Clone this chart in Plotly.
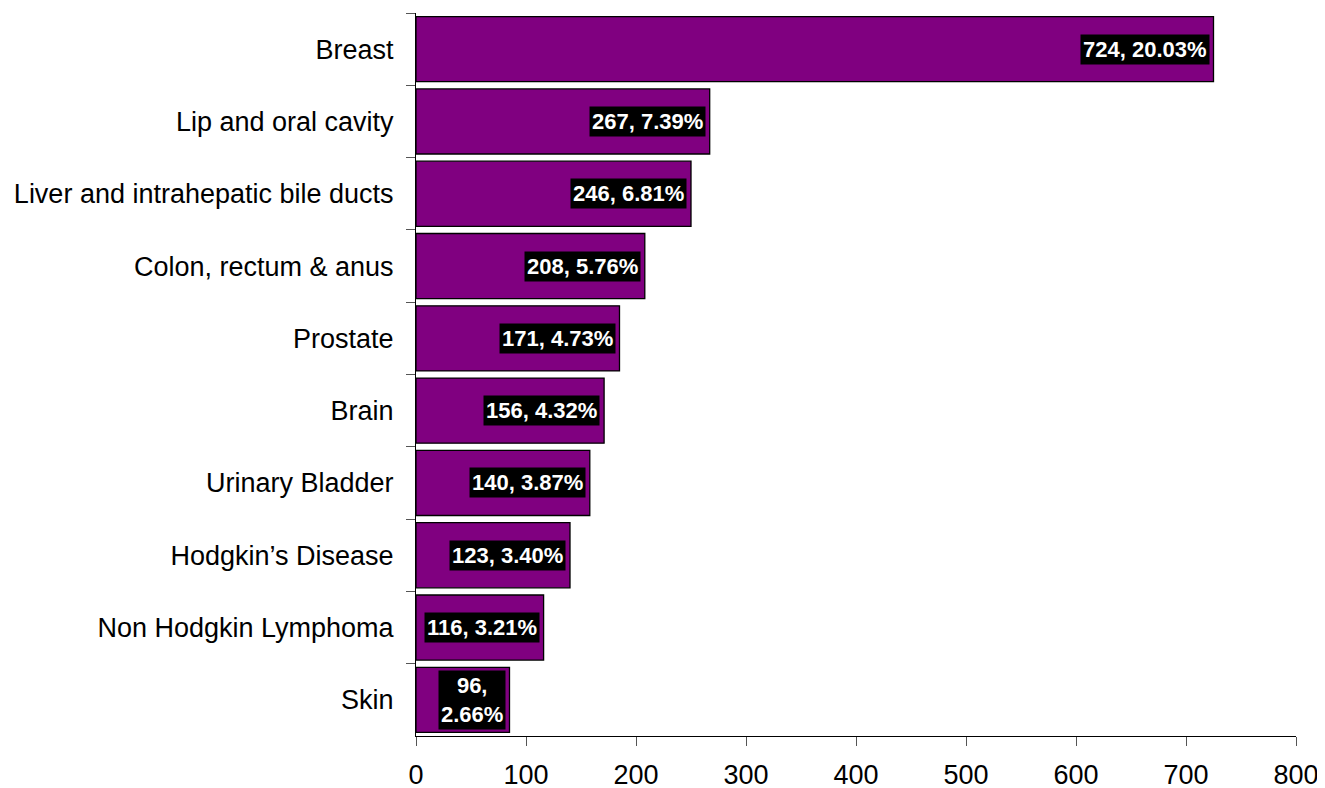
import plotly.graph_objects as go

categories = ["Breast", "Lip and oral cavity", "Liver and intrahepatic bile ducts",
              "Colon, rectum & anus", "Prostate", "Brain", "Urinary Bladder",
              "Hodgkin\u2019s Disease", "Non Hodgkin Lymphoma", "Skin"]
bar_values = [725, 267, 250, 208, 185, 171, 158, 140, 116, 85]
label_texts = ["724, 20.03%", "267, 7.39%", "246, 6.81%", "208, 5.76%", "171, 4.73%",
               "156, 4.32%", "140, 3.87%", "123, 3.40%", "116, 3.21%", "96,<br>2.66%"]
x_ticks = [0, 100, 200, 300, 400, 500, 600, 700, 800]

FONT = "Liberation Sans, Arial, sans-serif"

fig = go.Figure()
fig.add_trace(go.Bar(
    x=bar_values, y=categories, orientation="h",
    marker=dict(color="#800080", line=dict(color="black", width=1.3)),
    hoverinfo="x+y", showlegend=False,
))

for v, c, t in zip(bar_values, categories, label_texts):
    fig.add_annotation(
        x=v, y=c, xref="x", yref="y", text="<b>" + t + "</b>",
        showarrow=False, xanchor="right", xshift=-4, align="center",
        bgcolor="black", borderpad=2,
        font=dict(family=FONT, size=22, color="white"),
    )

fig.update_layout(
    width=1317, height=780,
    margin=dict(l=408, r=29, t=5, b=52),
    plot_bgcolor="white", paper_bgcolor="white",
    bargap=0.1,
    font=dict(family=FONT, size=27, color="black"),
)
fig.update_xaxes(
    range=[0, 800], tickvals=x_ticks, ticktext=[str(v) for v in x_ticks],
    showgrid=False, zeroline=False, showline=True, linecolor="black", linewidth=1,
    ticks="outside", ticklen=9, tickcolor="#555555", ticklabelstandoff=6,
    tickfont=dict(family=FONT, size=27, color="black"),
    automargin=False,
)
fig.update_yaxes(
    categoryorder="array", categoryarray=categories, autorange="reversed",
    showgrid=False, zeroline=False, showline=True, linecolor="black", linewidth=1,
    ticks="outside", ticklen=9, tickcolor="#555555", tickson="boundaries",
    ticklabelstandoff=16,
    tickfont=dict(family=FONT, size=27, color="black"),
    automargin=False,
)

fig.write_html("out.html")
